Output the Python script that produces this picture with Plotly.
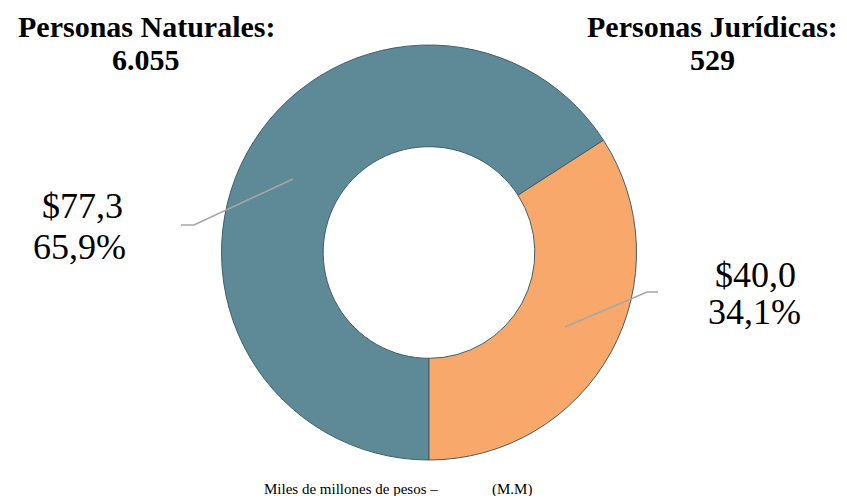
import plotly.graph_objects as go

# Data
categories = ["Personas Naturales", "Personas Jurídicas"]
values = [77.3, 40.0]          # miles de millones de pesos
percents = ["65,9%", "34,1%"]
value_labels = ["$77,3", "$40,0"]
counts = ["6.055", "529"]
colors = ["#5E8A98", "#F9A86B"]
footer_parts = ["Miles de millones de pesos –", "(M.M)"]

# page body has an 8px margin: plot area is offset by 8px
OFF = 8
PW, PH = 847 - 2 * OFF, 504 - 2 * OFF
def px(x): return (x - OFF) / PW
def py(y): return 1 - (y - OFF) / PH

R = 207.5
CX, CY = 429, 252.5

fig = go.Figure()
fig.add_trace(go.Pie(
    labels=categories,
    values=values,
    hole=0.51,
    sort=False,
    direction="clockwise",
    rotation=180,
    marker=dict(colors=colors, line=dict(color="#3E5F69", width=1)),
    textinfo="none",
    hoverinfo="label+value+percent",
    showlegend=False,
    domain=dict(x=[px(CX - R), px(CX + R)], y=[py(CY + R), py(CY - R)]),
))

serif = "Liberation Serif"

def note(x, y, text, size, bold=False, xanchor="center", yanchor="middle"):
    fig.add_annotation(x=px(x), y=py(y), xref="paper", yref="paper", showarrow=False,
                       xanchor=xanchor, yanchor=yanchor, align="center",
                       text=f"<b>{text}</b>" if bold else text,
                       font=dict(family=serif, size=size, color="black"))

# Headers
note(146, OFF, "Personas Naturales:", 30, bold=True, yanchor="top")
note(146, 59, counts[0], 30, bold=True)
note(712, OFF, "Personas Jurídicas:", 30, bold=True, yanchor="top")
note(712, 59, counts[1], 30, bold=True)

# Slice labels
note(82, 206, value_labels[0], 36)
note(79, 247, percents[0], 36)
note(755, 275, value_labels[1], 36)
note(754, 312, percents[1], 36)

# Leader lines
line_style = dict(color="#A6A6A6", width=1.5)
fig.add_shape(type="path", xref="paper", yref="paper",
              path=f"M {px(181)},{py(225)} L {px(194)},{py(225)} L {px(293)},{py(179)}",
              line=line_style)
fig.add_shape(type="path", xref="paper", yref="paper",
              path=f"M {px(565)},{py(327)} L {px(647)},{py(292)} L {px(658)},{py(292)}",
              line=line_style)

# Footer
note(262, 489, footer_parts[0], 15, xanchor="left")
note(490, 489, footer_parts[1], 15, xanchor="left")

fig.update_layout(
    width=PW, height=PH,
    margin=dict(l=0, r=0, t=0, b=0),
    paper_bgcolor="white", plot_bgcolor="white",
)

fig.write_html("out.html")
